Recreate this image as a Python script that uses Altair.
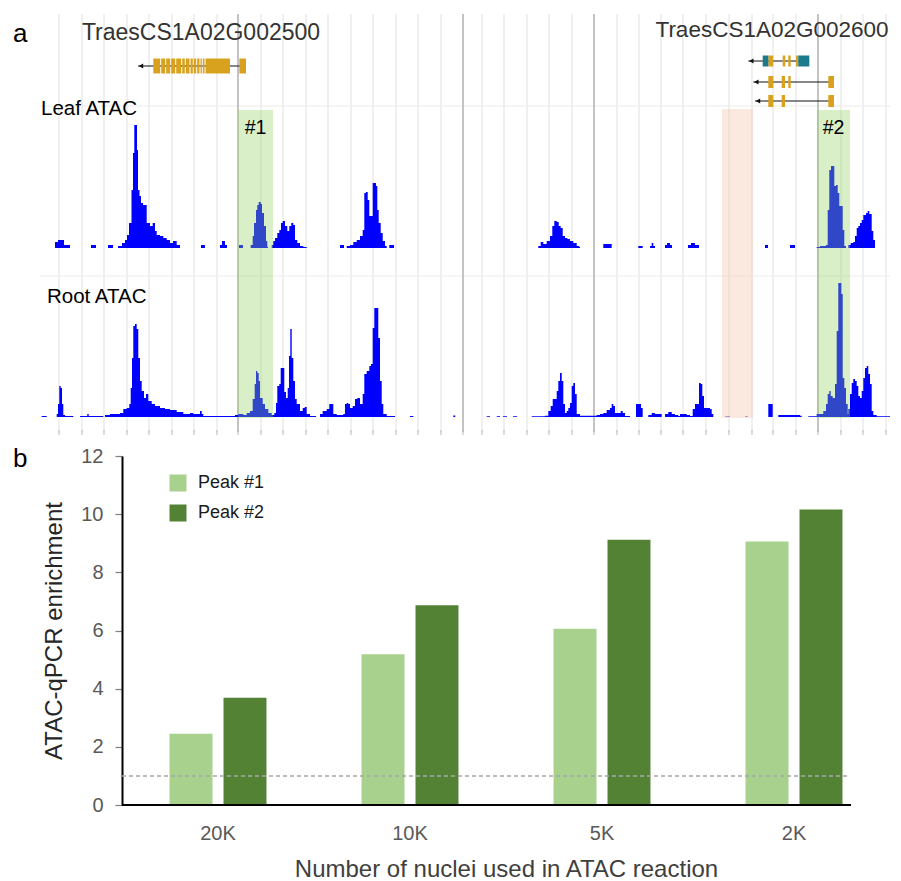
import altair as alt
import pandas as pd

# ---------------- Panel b data ----------------
nuclei = ["20K", "10K", "5K", "2K"]
series = ["Peak #1", "Peak #2"]
peak1 = [2.45, 5.18, 6.06, 9.06]
peak2 = [3.69, 6.87, 9.12, 10.16]
enrich_threshold = 1.0

# ---------------- Panel a data (genome browser, position units 0-850) ----------------
grid_pos = [19, 42, 64, 87, 109, 132, 154, 177, 221, 243, 266, 288, 311, 333, 356, 378, 401,
            442, 464, 487, 509, 532, 577, 599, 621, 643, 666, 689, 712, 733, 756, 801, 823, 846]
major_pos = [198, 423, 554, 778]

# (position, coverage) step profile, Leaf ATAC
leaf_track = [
    (15, 6), (18, 8), (24, 3), (30, 0),
    (51, 3), (56, 0), (68, 3), (73, 0),
    (78, 2), (82, 5), (85, 8), (87, 13), (89, 25), (91.5, 58), (93, 95), (94.3, 123), (97, 98),
    (98, 58), (99.5, 52), (101, 45), (103, 43), (106.7, 25), (110, 22), (112.7, 25), (115, 17),
    (116.7, 13), (120, 12), (123.3, 10), (126.7, 8), (130, 5), (133, 7), (136.7, 3), (140, 0),
    (161, 3), (165, 0),
    (180, 3), (182, 7), (185, 3), (187, 0),
    (199, 3), (203, 0),
    (210.7, 3), (212.7, 12), (214, 25), (216, 38), (217.3, 43), (218.7, 46), (220.7, 44),
    (222, 35), (224, 22), (226, 7), (227.3, 1), (228, 0),
    (231.7, 3), (233.3, 7), (235, 10), (237.3, 15), (239.3, 18), (241, 25), (242.7, 27), (245, 22),
    (247.3, 17), (249.3, 22), (251.3, 25), (253.3, 23), (255, 8), (257.3, 5), (260, 2), (263.3, 1),
    (266.7, 0),
    (300, 3), (304, 0),
    (306.7, 2), (310, 3), (313.3, 6), (316.7, 8), (320, 12), (322.7, 18), (324.3, 55), (326, 56),
    (327.7, 48), (329.3, 32), (332.7, 65), (336, 62), (337.3, 38), (338.7, 25), (340.7, 15),
    (342.7, 7), (345, 2), (346.7, 0),
    (349.3, 3), (354, 0),
    (498.3, 2), (500.7, 6), (503.3, 4), (506.7, 7), (510, 12), (512.3, 22), (514.3, 27), (516.7, 26),
    (518.7, 22), (520.7, 20), (522.7, 12), (525, 10), (527.3, 9), (530, 7), (533.3, 5), (536.7, 2),
    (539.3, 1), (540, 0),
    (563.3, 4), (571.7, 0),
    (598.3, 2), (602.7, 0),
    (610, 2), (611.7, 5), (613.3, 2), (615, 0),
    (625, 3), (627, 5), (630, 3), (632, 0),
    (648, 3), (651, 5), (655, 3), (659, 0),
    (725, 3), (728, 0),
    (750, 3), (755, 0),
    (776.7, 1), (780, 2), (786, 3), (787.7, 38), (789.3, 78), (791, 82), (794.3, 62), (796, 63),
    (797.7, 55), (799.3, 42), (802.7, 18), (804.3, 2), (806, 0),
    (808.3, 3), (810.7, 5), (813.3, 6), (815, 12), (816.7, 20), (818.3, 22), (820, 25), (821.7, 28),
    (823.3, 33), (826, 35), (827.7, 37), (829.3, 34), (831.7, 17), (833.3, 8), (835, 0),
]

# (position, coverage) step profile, Root ATAC
root_track = [
    (1.7, 1), (6.7, 0),
    (16.7, 3), (18, 13), (19.3, 31), (20.7, 29), (22, 13), (23.3, 2), (25, 1), (33.3, 0),
    (40, 1), (47.3, 3), (48.7, 1), (63.3, 0),
    (65, 2), (70, 3), (75, 3), (80, 4), (83.3, 8), (86.7, 9), (89.3, 13), (90.7, 29), (92, 59),
    (93.3, 91), (95, 93), (96.7, 88), (98.3, 59), (100, 36), (101.7, 26), (104, 19), (106, 23),
    (108.3, 16), (111.7, 13), (115, 11), (120, 9), (125, 8), (130, 7), (136.7, 5), (143.3, 3),
    (146.7, 3), (150, 4), (153.3, 3), (156.7, 3), (160, 6), (161.7, 3), (163.3, 1),
    (195, 2), (198.3, 3), (203.3, 2), (206.7, 4), (210, 6), (212.7, 18), (214.7, 33), (216, 46),
    (217.3, 44), (218.7, 36), (220, 19), (222.7, 13), (225, 8), (228.3, 4), (231.7, 2), (234.3, 4),
    (236, 14), (237.3, 31), (239.3, 33), (240.7, 49), (244.3, 25), (246, 19), (247.7, 29), (249, 61),
    (250.3, 88), (251.7, 59), (253.3, 36), (255, 18), (256.7, 13), (260, 6), (262.7, 9), (264.7, 10),
    (266.7, 3), (270, 1), (276, 0),
    (280, 3), (282.7, 6), (286.7, 8), (289.3, 13), (291.7, 13), (293.3, 3), (296.7, 2), (303.3, 3),
    (305, 13), (306.7, 14), (308.3, 13), (310, 9), (312.7, 11), (315, 18), (317.3, 19), (320, 13),
    (322.7, 23), (324.3, 43), (326.7, 46), (329.3, 51), (331, 53), (332.7, 89), (334.3, 109),
    (338.3, 79), (340, 36), (341.7, 13), (343.3, 3), (346.7, 1), (355, 0),
    (370, 1), (373.3, 0), (413.3, 1.5), (415.3, 0),
    (446.7, 0.7), (450, 0), (456.7, 0.7), (460, 0), (463, 0.7), (467, 0), (473, 0.7), (477, 0),
    (491.7, 0.7), (505, 1.3), (508.3, 6), (510.7, 11), (512.7, 18), (516.7, 26), (518.3, 36),
    (520, 44), (521.7, 36), (523.3, 13), (525, 4), (526.7, 6), (528.3, 9), (530, 14), (531.7, 31),
    (533.3, 34), (535, 23), (536.7, 3), (540, 1.3), (556.7, 2),
    (560, 3), (563.3, 4), (566.7, 7), (570, 9), (571.7, 13), (573.3, 11), (575, 4), (580.7, 6),
    (582.7, 4), (585, 1), (590, 0),
    (596, 13), (601, 9), (602.7, 0),
    (608.3, 2), (611.7, 4), (615, 3), (618.3, 3), (621.7, 0),
    (625, 3), (628.3, 5), (631.7, 3), (635, 2), (638.3, 1), (640, 3), (643.3, 3), (646.7, 2),
    (650, 1), (652.7, 8), (655, 13), (659, 34), (660.7, 33), (662.3, 21), (664, 9), (666.7, 9),
    (670, 8), (671.7, 3), (673.3, 0),
    (685, 0.5), (690, 0), (705, 0.5), (708, 0),
    (728.3, 13), (732.7, 0),
    (738.3, 2), (760, 1.3), (761.7, 0),
    (768.3, 0.7), (776.7, 3), (783.3, 6), (786, 13), (787.7, 23), (789.3, 26), (790.7, 21),
    (792.7, 19), (795, 33), (796.7, 86), (798.3, 134), (801.3, 123), (802.7, 39), (804.3, 29),
    (806, 13), (807.7, 3), (808.3, 8), (810, 23), (811.7, 34), (813.3, 38), (815, 36), (816.7, 31),
    (818.3, 21), (820, 19), (821.7, 26), (823.3, 39), (825, 49), (826.7, 51), (828.3, 43), (830, 33),
    (831.7, 6), (833.3, 2), (836.7, 0.7), (850, 0),
]

# highlighted regions
hl_start = [198, 682, 777]
hl_end = [233, 713, 810]
hl_kind = ["peak", "other", "peak"]
hl_label = ["#1", "", "#2"]

# gene models
gene_labels = ["TraesCS1A02G002500", "TraesCS1A02G002600"]
tx_start = [98, 708.3, 713.3, 715]
tx_end = [206, 769.3, 794, 794]
exons = [  # (transcript index, start, end, type)
    (0, 113.3, 120.2, "CDS"), (0, 121.2, 125.2, "CDS"), (0, 126.2, 130.2, "CDS"),
    (0, 131.2, 135.2, "CDS"), (0, 136.2, 141.2, "CDS"), (0, 142.2, 144.8, "CDS"),
    (0, 145.8, 149.5, "CDS"), (0, 150.5, 152.8, "CDS"), (0, 153.8, 156.2, "CDS"),
    (0, 157.2, 159.5, "CDS"), (0, 160.5, 161.8, "CDS"), (0, 162.8, 164.5, "CDS"),
    (0, 165.5, 190, "CDS"), (0, 199.3, 206, "CDS"),
    (1, 722.7, 728.3, "UTR"), (1, 728.3, 733.3, "CDS"), (1, 742.7, 745.3, "CDS"),
    (1, 748.3, 750.7, "CDS"), (1, 756, 758.3, "CDS"), (1, 758.3, 769.3, "UTR"),
    (2, 728.3, 733.3, "CDS"), (2, 741.7, 745, "CDS"), (2, 748.3, 750.7, "CDS"), (2, 788.3, 794, "CDS"),
    (3, 728.3, 733.3, "CDS"), (3, 741.7, 745, "CDS"), (3, 788.3, 794, "CDS"),
]

# ---------------- styling / layout ----------------
FONT = "Liberation Sans"
OFF = -82                 # panel a starts 82 px left of panel b's plot origin
W_A_FULL, H_A = 850, 418
W_B, H_B = 729, 349
BLUE = "#0000ff"
ORANGE = "#D9A21E"
TEAL = "#1B7A8C"
tx_row_y = [52, 47, 68, 87]
tx_exon_h = [15, 11, 12, 12]

xs = alt.Scale(domain=[0, 850], range=[OFF, OFF + W_A_FULL], nice=False, zero=False)

def X(field):
    return alt.X(field, type="quantitative", scale=xs, axis=None)

def one_row():
    return pd.DataFrame({"k": [0]})

layers = []

grid_df = pd.DataFrame({"pos": grid_pos})
major_df = pd.DataFrame({"pos": major_pos})
tick_df = pd.DataFrame({"pos": sorted(grid_pos + major_pos)})

layers.append(alt.Chart(grid_df).mark_rule(color="#ebebeb", strokeWidth=1.5).encode(
    x=X("pos"), y=alt.value(0), y2=alt.value(H_A)))
layers.append(alt.Chart(tick_df).mark_rule(color="#c4c4c4", strokeWidth=1.2).encode(
    x=X("pos"), y=alt.value(H_A - 2), y2=alt.value(H_A + 3)))
for yy in (92, 262):
    layers.append(alt.Chart(one_row()).mark_rule(color="#ececec", strokeWidth=1.2).encode(
        x=alt.value(OFF), x2=alt.value(OFF + W_A_FULL), y=alt.value(yy)))
layers.append(alt.Chart(major_df).mark_rule(color="#b5b5b5", strokeWidth=1.6).encode(
    x=X("pos"), y=alt.value(0), y2=alt.value(H_A)))

leaf_df = pd.DataFrame(leaf_track, columns=["pos", "sig"])
root_df = pd.DataFrame(root_track, columns=["pos", "sig"])
layers.append(alt.Chart(leaf_df).mark_area(interpolate="step-after", color=BLUE).encode(
    x=X("pos"),
    y=alt.Y("sig:Q", scale=alt.Scale(domain=[0, 124], range=[234, 110], nice=False), axis=None)))
layers.append(alt.Chart(root_df).mark_area(interpolate="step-after", color=BLUE).encode(
    x=X("pos"),
    y=alt.Y("sig:Q", scale=alt.Scale(domain=[0, 134], range=[403, 269], nice=False), axis=None)))

hl_df = pd.DataFrame({"start": hl_start, "end": hl_end, "kind": hl_kind, "label": hl_label})
layers.append(alt.Chart(hl_df).transform_filter("datum.kind == 'peak'").mark_rect(
    color="#8dd15e", opacity=0.34).encode(
    x=X("start"), x2="end", y=alt.value(96), y2=alt.value(404)))
layers.append(alt.Chart(hl_df).transform_filter("datum.kind == 'other'").mark_rect(
    color="#f4c5ae", opacity=0.4).encode(
    x=X("start"), x2="end", y=alt.value(95), y2=alt.value(404)))
layers.append(alt.Chart(hl_df).transform_filter("datum.kind == 'peak'").transform_calculate(
    mid="(datum.start + datum.end) / 2").mark_text(
    fontSize=19.5, color="black", baseline="middle", align="center").encode(
    x=X("mid"), y=alt.value(114), text="label:N"))

tx_df = pd.DataFrame({"tx": range(len(tx_start)), "start": tx_start, "end": tx_end})
ex_df = pd.DataFrame(exons, columns=["tx", "start", "end", "type"])
for i, (yc, h) in enumerate(zip(tx_row_y, tx_exon_h)):
    tsub = tx_df[tx_df.tx == i]
    layers.append(alt.Chart(tsub).mark_rule(color="#111111", strokeWidth=1.2).encode(
        x=X("start"), x2="end", y=alt.value(yc)))
    layers.append(alt.Chart(tsub).mark_point(shape="triangle-left", filled=True, color="#111111",
                                             size=26, opacity=1, xOffset=3).encode(
        x=X("start"), y=alt.value(yc)))
    for kind, col in (("CDS", ORANGE), ("UTR", TEAL)):
        esub = ex_df[(ex_df.tx == i) & (ex_df.type == kind)]
        if len(esub):
            layers.append(alt.Chart(esub).mark_rect(color=col).encode(
                x=X("start"), x2="end", y=alt.value(yc - h / 2), y2=alt.value(yc + h / 2)))

def label(text, x, y, size, align="center", color="black"):
    return alt.Chart(pd.DataFrame({"t": [text]})).mark_text(
        fontSize=size, color=color, align=align, baseline="middle").encode(
        x=alt.value(x), y=alt.value(y), text="t:N")

layers.append(label(gene_labels[0], OFF + 161, 19, 23, color="#333333"))
layers.append(label(gene_labels[1], OFF + 732, 16, 22.5, color="#333333"))
layers.append(label("Leaf ATAC", OFF + 1, 95, 20.5, align="left"))
layers.append(label("Root ATAC", OFF + 7, 283, 20.5, align="left"))
layers.append(label("a", OFF - 27, 20, 26, align="left"))

panel_a = alt.layer(*layers).resolve_scale(y="independent").properties(
    width=W_A_FULL + OFF, height=H_A)

# ---------------- Panel b ----------------
bar_df = pd.DataFrame({
    "nuclei": nuclei * 2,
    "series": [series[0]] * len(nuclei) + [series[1]] * len(nuclei),
    "value": peak1 + peak2,
})

bars = alt.Chart(bar_df).mark_bar().encode(
    x=alt.X("nuclei:N", sort=nuclei,
            scale=alt.Scale(range=[0, 768], paddingInner=0, paddingOuter=0),
            axis=alt.Axis(title="Number of nuclei used in ATAC reaction", domain=False, ticks=False,
                          labelAngle=0, labelFontSize=20, labelColor="#595959", labelPadding=18,
                          titleFontSize=24, titleColor="#404040", titleFontWeight="normal",
                          titlePadding=14, labelFont=FONT, titleFont=FONT)),
    xOffset=alt.XOffset("series:N", sort=series,
                        scale=alt.Scale(paddingInner=0.204, paddingOuter=0.88)),
    y=alt.Y("value:Q", scale=alt.Scale(domain=[0, 12], nice=False),
            axis=alt.Axis(title="ATAC-qPCR enrichment", values=[0, 2, 4, 6, 8, 10, 12],
                          grid=False, domain=True, domainColor="black", domainWidth=2,
                          ticks=True, tickSize=7, tickColor="#7f7f7f", tickWidth=1.2,
                          labelFontSize=20, labelColor="#595959", labelPadding=12,
                          titleFontSize=24, titleColor="#262626", titleFontWeight="normal",
                          titlePadding=14, labelFont=FONT, titleFont=FONT)),
    color=alt.Color("series:N", sort=series,
                    scale=alt.Scale(domain=series, range=["#A9D18E", "#548235"]),
                    legend=alt.Legend(title=None, orient="none", legendX=47, legendY=18,
                                      symbolType="square", symbolSize=289, symbolStrokeWidth=0,
                                      labelFontSize=18, labelColor="#1a1a1a", labelFont=FONT,
                                      labelOffset=11, rowPadding=12, padding=0)),
)

thr = alt.Chart(one_row()).mark_rule(strokeDash=[4, 3], color="#a6a6a6", strokeWidth=1.5).encode(
    y=alt.datum(enrich_threshold), x=alt.value(0), x2=alt.value(W_B - 2))
xline = alt.Chart(one_row()).mark_rule(color="black", strokeWidth=2).encode(
    y=alt.datum(0), x=alt.value(0), x2=alt.value(W_B))
btext = label("b", -109, 3, 26, align="left")

panel_b = alt.layer(bars, thr, xline, btext).properties(width=W_B, height=H_B)

chart = alt.concat(panel_a, panel_b, columns=1, spacing=10).resolve_scale(
    color="independent", x="independent", y="independent"
).properties(
    padding={"left": 5, "top": 5, "right": 0, "bottom": 0}
).configure(font=FONT).configure_view(stroke=None)

chart.save("out.html", embed_options={"renderer": "svg", "actions": False})
